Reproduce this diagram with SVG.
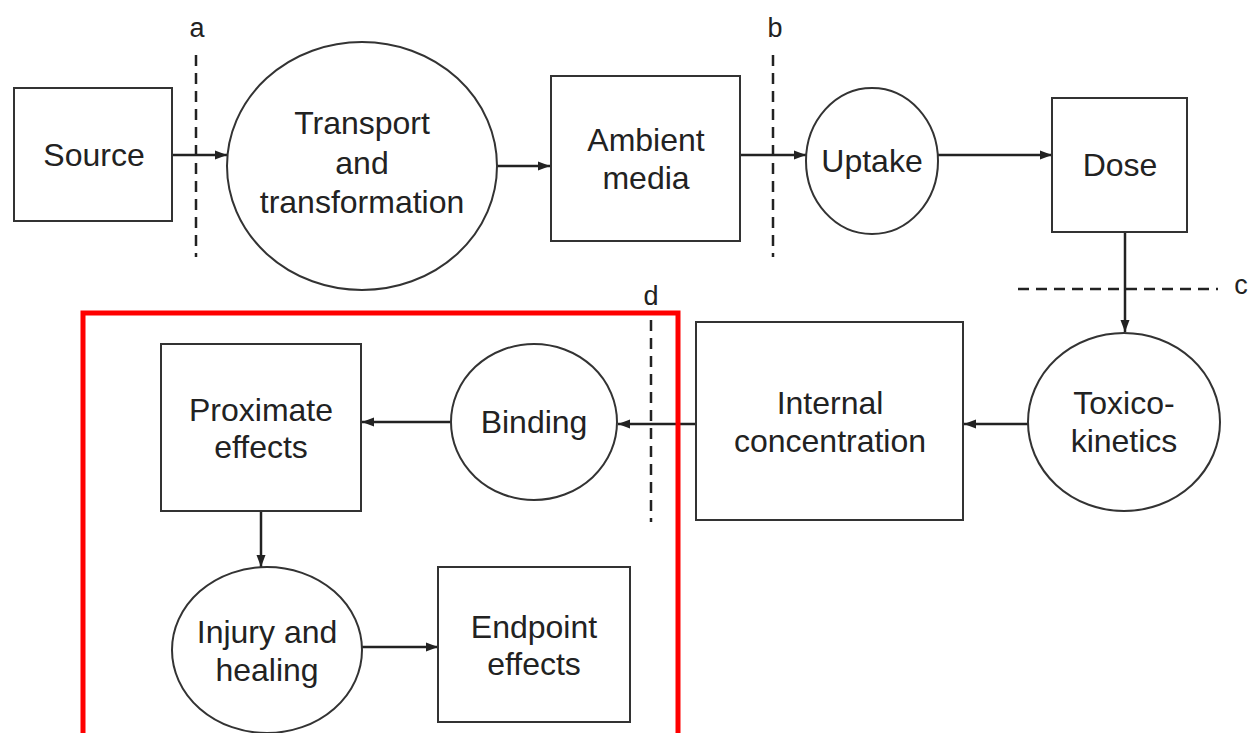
<svg xmlns="http://www.w3.org/2000/svg" width="1250" height="733" viewBox="0 0 1250 733">
<defs>
<marker id="ah" viewBox="0 0 12 10" refX="12" refY="5" markerWidth="12" markerHeight="10" markerUnits="userSpaceOnUse" orient="auto">
<path d="M0,0.5 L12,5 L0,9.5 z" fill="#222"/>
</marker>
<style>
.box{fill:#fff;stroke:#333;stroke-width:2}
.t{font-family:"Liberation Sans",Arial,sans-serif;font-size:32px;fill:#222;text-anchor:middle}
.lbl{font-family:"Liberation Sans",Arial,sans-serif;font-size:27px;fill:#222;text-anchor:middle}
.dash{stroke:#222;stroke-width:2.5;stroke-dasharray:11 7;fill:none}
.conn{stroke:#222;stroke-width:2.5;fill:none;marker-end:url(#ah)}
</style>
</defs>
<rect width="1250" height="733" fill="#fff"/>
<g id="dividers">
<line class="dash" x1="196" y1="55" x2="196" y2="257"/>
<text class="lbl" x="197" y="37">a</text>
<line class="dash" x1="773" y1="55" x2="773" y2="257"/>
<text class="lbl" x="775" y="37">b</text>
<line class="dash" x1="1018" y1="289" x2="1218" y2="289"/>
<text class="lbl" x="1241" y="294">c</text>
<line class="dash" x1="651" y1="320" x2="651" y2="522"/>
<text class="lbl" x="651" y="305">d</text>
</g>
<g id="connectors">
<line class="conn" x1="172" y1="155" x2="227" y2="155"/>
<line class="conn" x1="497" y1="166" x2="550" y2="166"/>
<line class="conn" x1="740" y1="155" x2="806" y2="155"/>
<line class="conn" x1="938" y1="155" x2="1052" y2="155"/>
<line class="conn" x1="1125" y1="232" x2="1125" y2="332"/>
<line class="conn" x1="1028" y1="424" x2="964" y2="424"/>
<line class="conn" x1="696" y1="424" x2="618" y2="424"/>
<line class="conn" x1="450" y1="422" x2="362" y2="422"/>
<line class="conn" x1="261" y1="511" x2="261" y2="567"/>
<line class="conn" x1="361" y1="647" x2="438" y2="647"/>
</g>
<g id="source"><rect class="box" x="14" y="88" width="158" height="133"/><text class="t" x="94" y="166">Source</text></g>
<g id="transport"><ellipse class="box" cx="362" cy="166" rx="135" ry="124"/><text class="t" x="362" y="134">Transport</text><text class="t" x="362" y="174">and</text><text class="t" x="362" y="213">transformation</text></g>
<g id="ambient"><rect class="box" x="551" y="76" width="189" height="165"/><text class="t" x="646" y="151">Ambient</text><text class="t" x="646" y="189">media</text></g>
<g id="uptake"><ellipse class="box" cx="872" cy="161" rx="66" ry="73"/><text class="t" x="872" y="172">Uptake</text></g>
<g id="dose"><rect class="box" x="1052" y="98" width="135" height="134"/><text class="t" x="1120" y="176">Dose</text></g>
<g id="toxicokinetics"><ellipse class="box" cx="1124" cy="422" rx="96" ry="89"/><text class="t" x="1124" y="414">Toxico-</text><text class="t" x="1124" y="452">kinetics</text></g>
<g id="internal"><rect class="box" x="696" y="322" width="267" height="198"/><text class="t" x="830" y="414">Internal</text><text class="t" x="830" y="452">concentration</text></g>
<g id="binding"><ellipse class="box" cx="534" cy="422" rx="83" ry="78"/><text class="t" x="534" y="433">Binding</text></g>
<g id="proximate"><rect class="box" x="161" y="344" width="200" height="167"/><text class="t" x="261" y="421">Proximate</text><text class="t" x="261" y="458">effects</text></g>
<g id="injury"><ellipse class="box" cx="267" cy="650" rx="95" ry="83"/><text class="t" x="267" y="643">Injury and</text><text class="t" x="267" y="681">healing</text></g>
<g id="endpoint"><rect class="box" x="438" y="567" width="192" height="155"/><text class="t" x="534" y="638">Endpoint</text><text class="t" x="534" y="675">effects</text></g>
<g id="highlight"><rect x="83" y="313" width="595" height="423" fill="none" stroke="#ff0000" stroke-width="5"/></g>
</svg>
